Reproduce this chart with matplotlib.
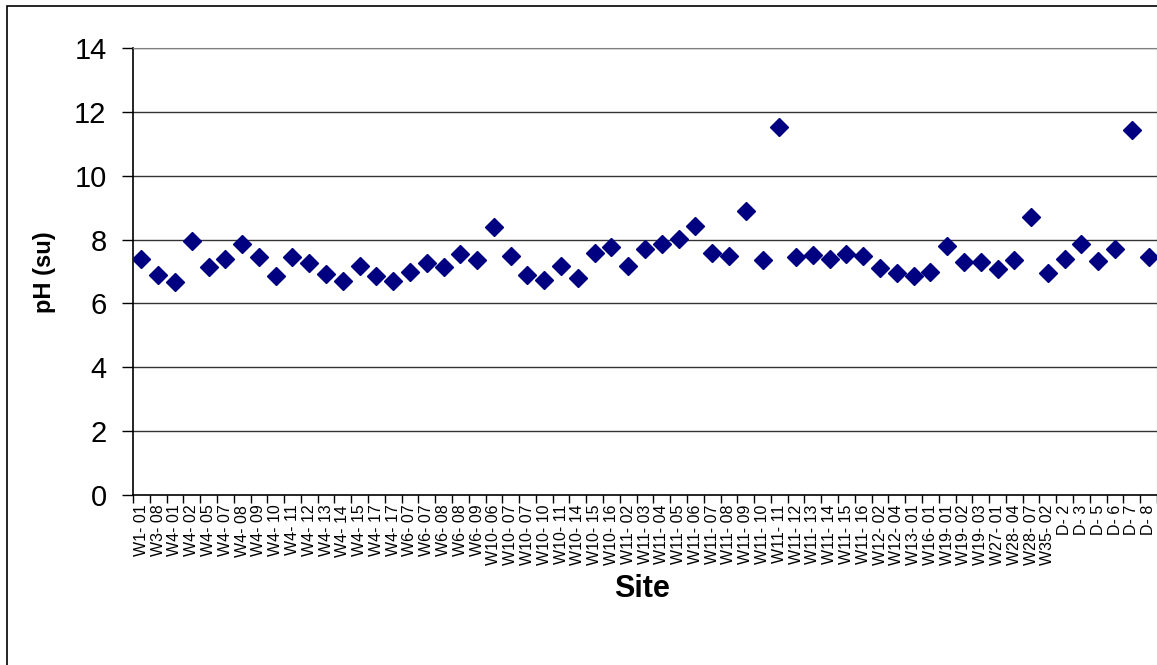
import numpy as np
import matplotlib
matplotlib.use('Agg')
import matplotlib.pyplot as plt
from matplotlib.patches import Rectangle

plt.rcParams['font.family'] = ['Liberation Sans', 'DejaVu Sans']

# site ids along the x axis
sites = ['W1- 01', 'W3- 08', 'W4- 01', 'W4- 02', 'W4- 05', 'W4- 07', 'W4- 08',
         'W4- 09', 'W4- 10', 'W4- 11', 'W4- 12', 'W4- 13', 'W4- 14', 'W4- 15',
         'W4- 17', 'W4- 17', 'W6- 07', 'W6- 07', 'W6- 08', 'W6- 08', 'W6- 09',
         'W10- 06', 'W10- 07', 'W10- 07', 'W10- 10', 'W10- 11', 'W10- 14',
         'W10- 15', 'W10- 16', 'W11- 02', 'W11- 03', 'W11- 04', 'W11- 05',
         'W11- 06', 'W11- 07', 'W11- 08', 'W11- 09', 'W11- 10', 'W11- 11',
         'W11- 12', 'W11- 13', 'W11- 14', 'W11- 15', 'W11- 16', 'W12- 02',
         'W12- 04', 'W13- 01', 'W16- 01', 'W19- 01', 'W19- 02', 'W19- 03',
         'W27- 01', 'W28- 04', 'W28- 07', 'W35- 02', 'D- 2', 'D- 3', 'D- 5',
         'D- 6', 'D- 7', 'D- 8']

# measured pH
ph = [7.38, 6.89, 6.67, 7.96, 7.15, 7.38, 7.85, 7.46, 6.87, 7.44, 7.27,
      6.91, 6.70, 7.17, 6.87, 6.71, 6.98, 7.28, 7.13, 7.56, 7.35, 8.40,
      7.49, 6.90, 6.73, 7.18, 6.80, 7.57, 7.76, 7.17, 7.70, 7.87, 8.03,
      8.43, 7.58, 7.50, 8.90, 7.36, 11.54, 7.45, 7.51, 7.40, 7.56, 7.48,
      7.10, 6.94, 6.87, 6.98, 7.81, 7.30, 7.30, 7.08, 7.35, 8.70, 6.95,
      7.39, 7.87, 7.32, 7.71, 11.42, 7.46]

yticks = [0, 2, 4, 6, 8, 10, 12, 14]

fig = plt.figure(figsize=(11.57, 6.65), dpi=100)
ax = fig.add_axes([133 / 1157, 1 - 495 / 665, 1 - 133 / 1157, (495 - 48) / 665])

x = np.arange(len(sites))
ax.plot(x, ph, linestyle='none', marker='D', markersize=9,
        color='#000080', zorder=3)

# horizontal gridlines
for yv in yticks[1:]:
    ax.axhline(yv, color='#333333', lw=1, zorder=1)

ax.set_ylim(0, 14)
ax.set_yticks(yticks)
ax.set_xlim(-0.5, len(sites) - 0.5)

ax.set_xticks(x)
ax.set_xticklabels(sites, rotation=90, fontsize=11.5, va='top')
ax.set_xticks(np.arange(len(sites) + 1) - 0.5, minor=True)
ax.tick_params(axis='x', which='major', length=0, pad=7)
ax.tick_params(axis='x', which='minor', length=6, width=1, color='black')
ax.tick_params(axis='y', length=8, width=1, pad=11, labelsize=21)

for side in ['top', 'right']:
    ax.spines[side].set_color('#808080')
for side in ['left', 'bottom']:
    ax.spines[side].set_color('black')
    ax.spines[side].set_linewidth(1.2)

fig.text(45 / 1157, 1 - 272 / 665, 'pH (su)', rotation=90, fontsize=17,
         fontweight='bold', ha='center', va='center')
fig.text(642 / 1157, 1 - 589 / 665, 'Site', fontsize=22,
         fontweight='bold', ha='center', va='center')

# chart frame
fig.patches.append(Rectangle((7 / 1157, -0.05), 1.2, 0.05 + 1 - 6 / 665,
                             transform=fig.transFigure, fill=False,
                             edgecolor='black', lw=1.2))

fig.savefig('out.png', dpi=100)
